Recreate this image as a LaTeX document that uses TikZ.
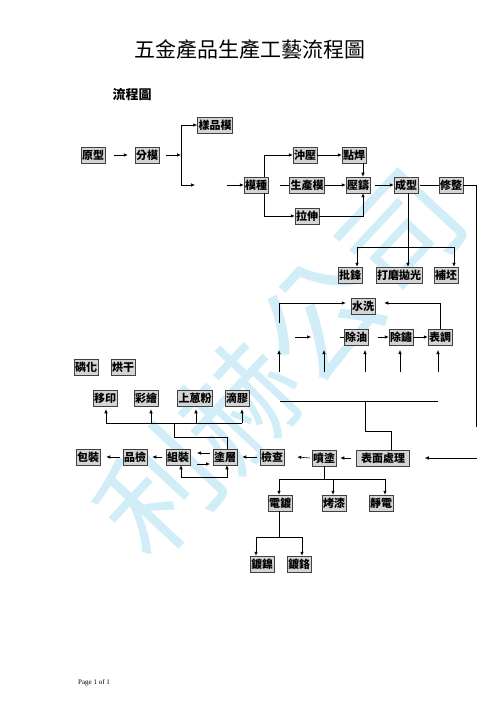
\documentclass[tikz,border=0pt]{standalone}
\usepackage{fontspec}
\setmainfont{Liberation Serif}
\newfontfamily\cjk{Noto Sans CJK TC}
\usetikzlibrary{arrows.meta,calc}
\definecolor{wmc}{RGB}{170,222,242}
\begin{document}
\begin{tikzpicture}[x=1pt,y=-1pt,
  bx/.style={draw=black!75, line width=0.5pt, fill=black!17, inner xsep=1pt, inner ysep=0pt,
    minimum height=16pt, font=\cjk\bfseries\fontsize{11}{11}\selectfont},
  ar/.style={-{Latex[length=4pt,width=3.5pt]}, line width=0.6pt},
  ln/.style={line width=0.6pt}]
\useasboundingbox (0,0) rectangle (500,708);
% watermark
\node[rotate=47, text=wmc, opacity=0.55, font=\cjk\fontsize{118}{118}\selectfont] (wm) at (280,362) {利赫公司};
% titles
\node[font=\cjk\fontsize{21}{21}\selectfont] (title) at (250,50) {五金產品生產工藝流程圖};
\node[font=\cjk\bfseries\fontsize{13}{13}\selectfont] (sub) at (132,95) {流程圖};
% boxes
\node[bx] (yp) at (215,125) {樣品模};
\node[bx] (yx) at (93,155) {原型};
\node[bx] (fm) at (147,155) {分模};
\node[bx] (mz) at (256,185) {模種};
\node[bx] (cy) at (305,155) {沖壓};
\node[bx] (dh) at (354,155) {點焊};
\node[bx] (scm) at (307,185) {生產模};
\node[bx] (yz) at (358,185) {壓鑄};
\node[bx] (ls) at (307,216) {拉伸};
\node[bx] (cx) at (406,185) {成型};
\node[bx] (xz) at (451,185) {修整};
\node[bx] (pf) at (350,275) {批鋒};
\node[bx] (dm) at (399,275) {打磨拋光};
\node[bx] (bp) at (446,275) {補坯};
\node[bx] (sx) at (363,306) {水洗};
\node[bx] (cyo) at (356,337) {除油};
\node[bx] (cxi) at (401,337) {除鏽};
\node[bx] (bt) at (440,337) {表調};
\node[bx] (lh) at (86,367) {磷化};
\node[bx] (hg) at (123,367) {烘干};
\node[bx] (yy) at (105,398) {移印};
\node[bx] (ch) at (146,398) {彩繪};
\node[bx] (sc) at (195,398) {上蒽粉};
\node[bx] (dj) at (237,398) {滴膠};
\node[bx] (bz) at (88,457) {包裝};
\node[bx] (pj) at (135,457) {品檢};
\node[bx] (zz) at (178,457) {組裝};
\node[bx] (tc) at (225,457) {塗層};
\node[bx] (jc) at (272,457) {檢查};
\node[bx] (pt) at (324,458) {噴塗};
\node[bx, minimum width=53pt] (bm) at (383,458) {表面處理};
\node[bx] (dd) at (280,503) {電鍍};
\node[bx] (kq) at (334,503) {烤漆};
\node[bx] (jd) at (381,503) {靜電};
\node[bx] (dn) at (262,564) {鍍鎳};
\node[bx] (dg) at (299,564) {鍍鉻};
\node[font=\fontsize{7}{8}\selectfont] (pg) at (94,683) {Page 1 of 1};
% ---- connectors top
\draw[ar] ($(yx.east)+(9,0)$) -- ($(fm.west)+(-7,0)$);
\coordinate (j1) at (181,155);
\draw[ar] ($(fm.east)+(7,0)$) -- (j1);
\draw[ln] (181,125) -- (181,185);
\draw[ar] (181,125) -- (yp.west);
\draw[ar] (181,185) -- (195,185);
\draw[ar] (227,185) -- (mz.west);
\draw[ar] ($(mz.north)+(8,0)$) |- (cy.west);
\draw[ar] ($(mz.south)+(8,0)$) |- (ls.west);
\draw[ar] (cy.east) -- (dh.west);
\coordinate (v1) at ($(dh.south)+(9,0)$);
\draw[ar] (v1) -- (v1 |- yz.north);
\draw[ln] (280,185) -- (scm.west);
\draw[ar] (scm.east) -- (yz.west);
\draw[ar] (ls.east) -| (v1 |- yz.south);
\draw[ar] ($(yz.east)+(5,0)$) -- (cx.west);
\draw[ln] ($(cx.east)+(2,0)$) -- (xz.west);
\coordinate (rr) at (476,427);
\draw[ln] (xz.east) -| (rr);
\coordinate (u1) at ($(cx.south)+(2,0)$);
\draw[ar] (u1) -- (u1 |- dm.north);
\coordinate (h1) at (408,247);
\draw[ar] (h1) -| ($(pf.north)+(7,0)$);
\draw[ar] (h1) -| ($(bp.north)+(8,0)$);
% ---- washing
\draw[ar] (279,323) |- ($(sx.west)+(-5,-3)$);
\draw[ar] (bt.north) |- ($(sx.east)+(9,-3)$);
\draw[ar] (295,337) -- (311,337);
\draw[ln] (340,337) -- (cyo.west);
\draw[ar] ($(cyo.east)+(10,0)$) -- (cxi.west);
\draw[ar] (cxi.east) -- (bt.west);
\foreach \xx in {279,324,365,400,438} \draw[ar] (\xx,372) -- (\xx,350);
% ---- decorations group
\draw[ln] (106,423) -- (242,423);
\draw[ar] (106,423) -- ($(yy.south)+(1,3)$);
\draw[ar] (151,423) -- ($(ch.south)+(5,3)$);
\draw[ar] (196,423) -- ($(sc.south)+(1,3)$);
\draw[ar] (242,423) -- ($(dj.south)+(5,3)$);
\draw[ln] (174,423) -- (174,437) -| ($(tc.north)+(2,0)$);
% ---- bottom chain
\draw[ar] ($(pj.west)+(-3,0)$) -- ($(bz.east)+(6,0)$);
\draw[ar] ($(zz.west)+(-4,0)$) -- ($(pj.east)+(5,0)$);
\draw[ar] (210,453) -- (197,453);
\draw[ar] (197,464) -- (210,464);
\draw[ar] ($(zz.south)+(3,12)$) -- ($(zz.south)+(3,0)$);
\draw[ar] ($(zz.south)+(3,12)$) -| ($(tc.south)+(2,0)$);
\draw[ar] ($(jc.west)+(-3,0)$) -- ($(tc.east)+(5,0)$);
\draw[ar] ($(pt.west)+(-2,0)$) -- ($(jc.east)+(13,0)$);
\draw[ar] ($(bm.west)+(-5,0)$) -- ($(pt.east)+(4,0)$);
\draw[ar] (477,458) -- ($(bm.east)+(15,0)$);
\draw[ln] (280,401) -- (438,401);
\draw[ln] (365,401) -- (365,431) -| ($(bm.north)+(8,0)$);
% ---- coatings
\coordinate (p1) at (324,479);
\draw[ln] (pt.south) -- (p1);
\draw[ar] (p1) -| ($(dd.north)+(-1,0)$);
\draw[ar] (p1) -| ($(kq.north)+(-1,0)$);
\draw[ar] (p1) -| ($(jd.north)+(4,0)$);
\coordinate (p2) at (279,537);
\draw[ln] ($(dd.south)+(-1,0)$) -- (p2);
\draw[ar] (p2) -| ($(dn.north)+(-6,0)$);
\draw[ar] (p2) -| ($(dg.north)+(3,0)$);
\end{tikzpicture}
\end{document}
